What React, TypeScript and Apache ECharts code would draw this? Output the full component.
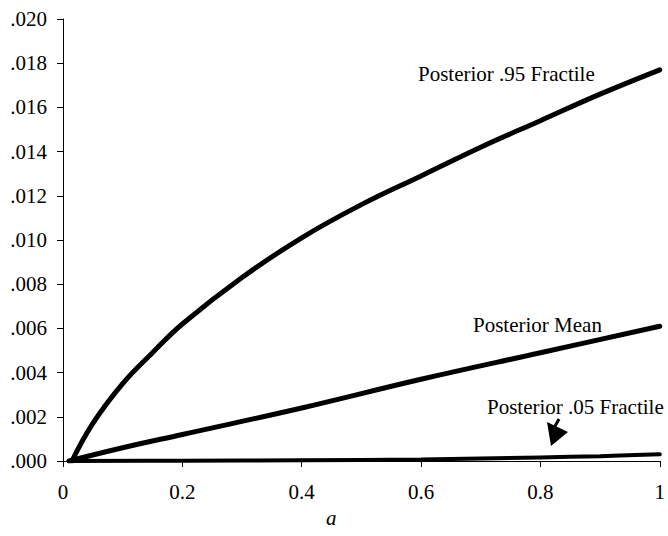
import React, { useEffect, useRef } from "react";
import * as echarts from "echarts";

const xTicks = [0, 0.2, 0.4, 0.6, 0.8, 1];
const yTickLabels = [".000", ".002", ".004", ".006", ".008", ".010", ".012", ".014", ".016", ".018", ".020"];

const a95 = [0.015, 0.05, 0.1, 0.15, 0.2, 0.3, 0.4, 0.5, 0.6, 0.7, 0.8, 0.9, 1.0];
const v95 = [0, 0.0017, 0.0035, 0.0049, 0.0062, 0.0083, 0.0101, 0.0116, 0.0129, 0.0142, 0.0154, 0.0166, 0.0177];

const aMean = [0.01, 0.1, 0.2, 0.4, 0.6, 0.8, 1.0];
const vMean = [0, 0.0006, 0.0012, 0.0024, 0.0037, 0.0049, 0.0061];

const a05 = [0.01, 0.2, 0.4, 0.6, 0.8, 0.9, 1.0];
const v05 = [0, 0.00001, 0.00003, 0.00007, 0.00016, 0.00022, 0.0003];

const FONT = "Liberation Serif";
const FS = 21;

const zip = (xs: number[], ys: number[]) => xs.map((x, i) => [x, ys[i]]);

export default function App() {
  const ref = useRef<HTMLDivElement>(null);
  useEffect(() => {
    if (!ref.current) return;
    const chart = echarts.init(ref.current, undefined, { renderer: "svg" });
    const lineSeries = (name: string, data: number[][], width: number) => ({
      name,
      type: "line",
      data,
      smooth: 0.4,
      showSymbol: false,
      symbol: "none",
      lineStyle: { color: "#000", width, cap: "round" },
    });
    const textStyle = (text: string, italic = false) => ({
      text,
      fontFamily: FONT,
      fontSize: FS,
      fontStyle: italic ? "italic" : "normal",
      fill: "#000",
    });
    chart.setOption({
      animation: false,
      backgroundColor: "#fff",
      textStyle: { fontFamily: FONT },
      grid: { left: 63, right: 5, top: 19, bottom: 75 },
      xAxis: {
        type: "value",
        min: 0,
        max: 1,
        interval: 0.2,
        axisLine: { show: true, lineStyle: { color: "#000", width: 1 } },
        axisTick: { show: true, length: 6, lineStyle: { color: "#000" } },
        splitLine: { show: false },
        axisLabel: {
          color: "#000",
          fontFamily: FONT,
          fontSize: FS,
          margin: 20,
          formatter: (v: number) => {
            const i = xTicks.findIndex((t) => Math.abs(t - v) < 1e-9);
            return i >= 0 ? String(xTicks[i]) : "";
          },
        },
      },
      yAxis: {
        type: "value",
        min: 0,
        max: 0.02,
        interval: 0.002,
        axisLine: { show: true, lineStyle: { color: "#000", width: 1 } },
        axisTick: { show: true, length: 6, lineStyle: { color: "#000" } },
        splitLine: { show: false },
        axisLabel: {
          color: "#000",
          fontFamily: FONT,
          fontSize: FS,
          margin: 16,
          formatter: (v: number) => yTickLabels[Math.round(v / 0.002)] ?? "",
        },
      },
      series: [
        lineSeries("Posterior .95 Fractile", zip(a95, v95), 5),
        lineSeries("Posterior Mean", zip(aMean, vMean), 5),
        lineSeries("Posterior .05 Fractile", zip(a05, v05), 4),
      ],
      graphic: [
        { type: "text", left: 418, top: 63, style: textStyle("Posterior .95 Fractile") },
        { type: "text", left: 473, top: 314, style: textStyle("Posterior Mean") },
        { type: "text", left: 487, top: 396, style: textStyle("Posterior .05 Fractile") },
        {
          type: "line",
          shape: { x1: 559, y1: 419, x2: 554, y2: 428 },
          style: { stroke: "#000", lineWidth: 3 },
        },
        {
          type: "polygon",
          shape: { points: [[547, 422], [568, 432], [551, 446]] },
          style: { fill: "#000" },
        },
        { type: "text", left: 326, top: 507, style: textStyle("a", true) },
      ],
    });
    return () => chart.dispose();
  }, []);
  return (
    <div
      ref={ref}
      style={{ position: "fixed", left: 0, top: 0, width: 668, height: 536 }}
    />
  );
}
